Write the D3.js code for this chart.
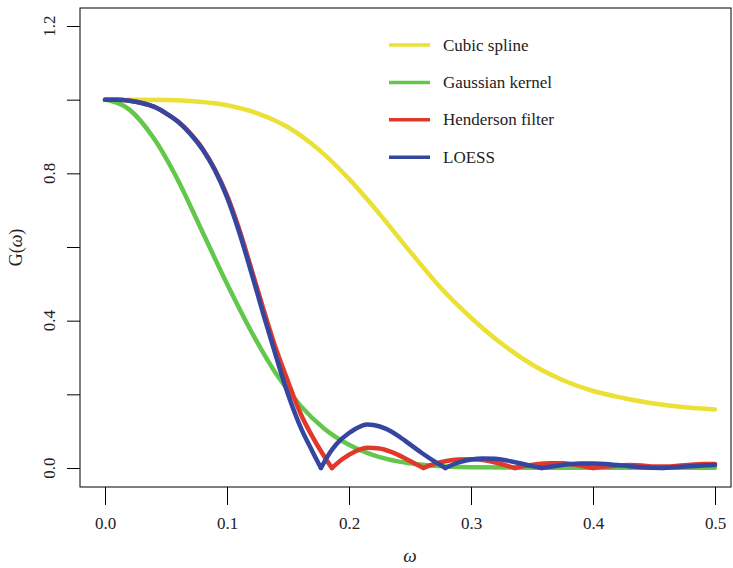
<!DOCTYPE html>
<html>
<head>
<meta charset="utf-8">
<script src="https://cdn.jsdelivr.net/npm/d3@7"></script>
<style>
  body { margin: 0; background: #fff; }
  svg { display: block; }
  svg text { font-family: "Liberation Serif", "Times New Roman", Times, "DejaVu Serif", serif; }
</style>
</head>
<body>
<div id="vis"></div>
<script>
// series
const seriesNames = ["Cubic spline", "Gaussian kernel", "Henderson filter", "LOESS"];
const seriesColors = ["#ebe035", "#62c74b", "#e0392b", "#3446a0"];

const splineW = [0, 0.025, 0.05, 0.075, 0.1, 0.125, 0.15, 0.175, 0.2, 0.225, 0.25, 0.275, 0.3, 0.325, 0.35, 0.375, 0.4, 0.425, 0.45, 0.475, 0.5];
const splineG = [1.0, 1.0, 0.999, 0.995, 0.985, 0.963, 0.925, 0.865, 0.785, 0.69, 0.588, 0.49, 0.408, 0.338, 0.281, 0.239, 0.209, 0.19, 0.175, 0.165, 0.159];

const gaussW = [0, 0.02, 0.04, 0.06, 0.08, 0.1, 0.12, 0.14, 0.16, 0.18, 0.2, 0.22, 0.24, 0.26, 0.28, 0.3, 0.35, 0.4, 0.45, 0.5];
const gaussG = [1.0, 0.973, 0.895, 0.78, 0.64, 0.5, 0.37, 0.257, 0.17, 0.106, 0.063, 0.035, 0.018, 0.009, 0.004, 0.002, 0.001, 0.001, 0.001, 0.001];

const hendW = [0, 0.01, 0.02, 0.03, 0.04, 0.05, 0.06, 0.07, 0.08, 0.09, 0.1, 0.11, 0.12, 0.13, 0.14, 0.15, 0.16, 0.17, 0.18, 0.186,
  0.195, 0.205, 0.215, 0.225, 0.235, 0.245, 0.255, 0.261, 0.27, 0.28, 0.29, 0.3, 0.31, 0.32, 0.33, 0.336,
  0.345, 0.355, 0.365, 0.375, 0.385, 0.395, 0.4, 0.41, 0.42, 0.43, 0.44, 0.45, 0.46, 0.47, 0.48, 0.49, 0.5];
const hendG = [1.0, 1.0, 0.997, 0.991, 0.981, 0.963, 0.94, 0.908, 0.867, 0.811, 0.74, 0.648, 0.54, 0.43, 0.325, 0.235, 0.15, 0.085, 0.03, 0,
  0.025, 0.045, 0.055, 0.053, 0.043, 0.028, 0.01, 0, 0.011, 0.019, 0.023, 0.024, 0.022, 0.015, 0.006, 0,
  0.006, 0.011, 0.013, 0.013, 0.009, 0.003, 0, 0.004, 0.007, 0.008, 0.007, 0.004, 0.004, 0.006, 0.009, 0.011, 0.011];

const loessW = [0, 0.01, 0.02, 0.03, 0.04, 0.05, 0.06, 0.07, 0.08, 0.09, 0.1, 0.11, 0.12, 0.13, 0.14, 0.15, 0.16, 0.17, 0.177,
  0.185, 0.19, 0.2, 0.21, 0.215, 0.22, 0.23, 0.24, 0.25, 0.26, 0.27, 0.279,
  0.29, 0.3, 0.31, 0.32, 0.33, 0.34, 0.35, 0.358,
  0.37, 0.38, 0.39, 0.4, 0.41, 0.42, 0.43, 0.44, 0.457, 0.47, 0.48, 0.49, 0.5];
const loessG = [1.0, 1.0, 0.997, 0.991, 0.981, 0.963, 0.94, 0.907, 0.865, 0.809, 0.735, 0.64, 0.53, 0.415, 0.305, 0.2, 0.113, 0.045, 0,
  0.045, 0.066, 0.095, 0.114, 0.118, 0.117, 0.107, 0.088, 0.064, 0.04, 0.018, 0,
  0.015, 0.023, 0.026, 0.025, 0.02, 0.013, 0.005, 0,
  0.006, 0.01, 0.012, 0.012, 0.011, 0.008, 0.005, 0.002, 0, 0.003, 0.005, 0.007, 0.008];

const xTicks = [0, 0.1, 0.2, 0.3, 0.4, 0.5];
const yTicks = [0, 0.2, 0.4, 0.6, 0.8, 1.0, 1.2];
const yLabels = [0, 0.4, 0.8, 1.2];

const W = 733, H = 568;
const box = { left: 80, top: 8, right: 731, bottom: 487 };
const serif = '"Liberation Serif", "Times New Roman", Times, "DejaVu Serif", serif';

const svg = d3.select("#vis").append("svg")
  .attr("width", W)
  .attr("height", H)
  .attr("font-family", serif);

const x = d3.scaleLinear().domain([0, 0.5]).range([105, 715]);
const y = d3.scaleLinear().domain([0, 1.2]).range([468, 26]);

// curves - split at the zeros so the dips stay sharp
const series = [
  [splineW, splineG], [gaussW, gaussG], [hendW, hendG], [loessW, loessG]
];
const line = d3.line().x(d => x(d[0])).y(d => y(d[1])).curve(d3.curveMonotoneX);

series.forEach(([ws, gs], i) => {
  const pts = ws.map((w, k) => [w, gs[k]]);
  const segs = [];
  let cur = [];
  pts.forEach((p, k) => {
    cur.push(p);
    if (p[1] === 0 && k > 0 && k < pts.length - 1) {
      segs.push(cur);
      cur = [p];
    }
  });
  segs.push(cur);
  svg.append("g").selectAll("path")
    .data(segs)
    .join("path")
    .attr("d", line)
    .attr("fill", "none")
    .attr("stroke", seriesColors[i])
    .attr("stroke-width", 4.5)
    .attr("stroke-linecap", "round")
    .attr("stroke-linejoin", "round");
});

// box
svg.append("rect")
  .attr("x", box.left).attr("y", box.top)
  .attr("width", box.right - box.left).attr("height", box.bottom - box.top)
  .attr("fill", "none").attr("stroke", "#000").attr("stroke-width", 1);

// x axis
const xAxis = svg.append("g")
  .attr("transform", `translate(0,${box.bottom})`)
  .call(d3.axisBottom(x).tickValues(xTicks).tickSize(18).tickPadding(12).tickFormat(d3.format(".1f")));
xAxis.attr("font-family", serif).attr("font-size", 17);
xAxis.select(".domain").remove();
xAxis.selectAll("text").attr("fill", "#222");
xAxis.selectAll("line").attr("stroke", "#000");

// y axis
const yAxis = svg.append("g")
  .attr("transform", `translate(${box.left},0)`)
  .call(d3.axisLeft(y).tickValues(yTicks).tickSize(13).tickFormat(""));
yAxis.select(".domain").remove();
yAxis.selectAll("line").attr("stroke", "#000");

svg.append("g").selectAll("text")
  .data(yLabels)
  .join("text")
  .attr("transform", d => `translate(55,${y(d)}) rotate(-90)`)
  .attr("text-anchor", "middle")
  .attr("font-size", 17)
  .attr("fill", "#222")
  .text(d3.format(".1f"));

// axis titles
svg.append("text")
  .attr("x", 410).attr("y", 562)
  .attr("text-anchor", "middle")
  .attr("font-size", 19)
  .attr("font-style", "italic")
  .attr("fill", "#222")
  .text("ω");

const gl = svg.append("text")
  .attr("transform", `translate(22,${(box.top + box.bottom) / 2}) rotate(-90)`)
  .attr("text-anchor", "middle")
  .attr("font-size", 18)
  .attr("fill", "#222");
gl.append("tspan").text("G(");
gl.append("tspan").attr("font-style", "italic").text("ω");
gl.append("tspan").text(")");

// legend
const legend = svg.append("g").selectAll("g")
  .data(seriesNames)
  .join("g")
  .attr("transform", (d, i) => `translate(389,${45 + i * 37.4})`);
legend.append("line")
  .attr("x1", 0).attr("x2", 41)
  .attr("stroke", (d, i) => seriesColors[i])
  .attr("stroke-width", 3.5);
legend.append("text")
  .attr("x", 54).attr("dy", "0.33em")
  .attr("font-size", 17)
  .attr("fill", "#222")
  .text(d => d);
</script>
</body>
</html>
